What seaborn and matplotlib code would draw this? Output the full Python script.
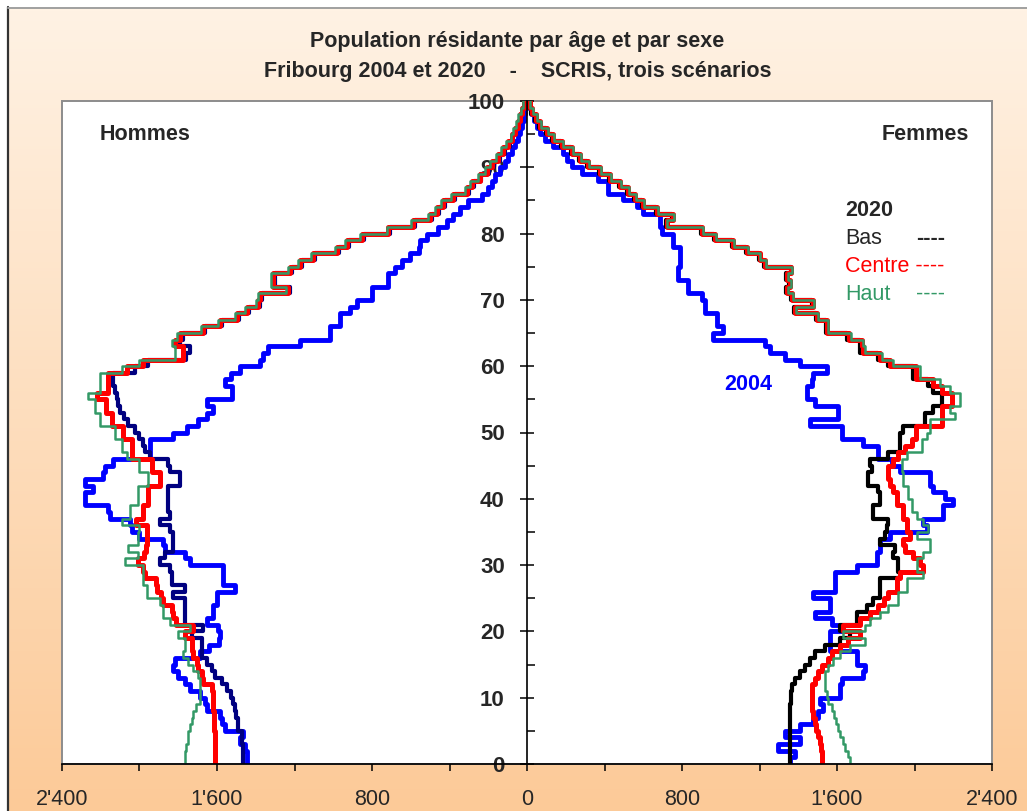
"""Pyramide des âges Fribourg 2004 / 2020 (SCRIS, trois scénarios)."""

import matplotlib
matplotlib.use("Agg")
import matplotlib.pyplot as plt
import numpy as np
import seaborn as sns
from matplotlib.patches import Rectangle
from matplotlib.ticker import FuncFormatter, MultipleLocator

# --- data: population per single year of age 0..99 -------------------------
men_2004 = [1445, 1445, 1455, 1480, 1465, 1560, 1575, 1585, 1650, 1660,
            1690, 1740, 1765, 1800, 1825, 1815, 1690, 1640, 1590, 1585,
            1595, 1650, 1620, 1620, 1600, 1600, 1505, 1570, 1570, 1570,
            1740, 1765, 1870, 1880, 2000, 2040, 2050, 2150, 2165, 2280,
            2280, 2240, 2280, 2190, 2180, 2135, 1945, 1945, 1945, 1825,
            1755, 1700, 1650, 1620, 1650, 1520, 1520, 1560, 1530, 1480,
            1380, 1360, 1335, 1170, 1015, 1015, 965, 965, 915, 875,
            800, 800, 715, 715, 680, 645, 605, 560, 550, 515,
            460, 415, 380, 345, 305, 230, 200, 180, 165, 140,
            115, 100, 75, 60, 45, 35, 25, 15, 10, 5]

men_bas = [1465, 1465, 1465, 1470, 1470, 1490, 1490, 1500, 1505, 1515,
           1530, 1550, 1575, 1610, 1625, 1650, 1675, 1675, 1675, 1730,
           1670, 1765, 1765, 1765, 1765, 1825, 1765, 1830, 1830, 1840,
           1895, 1870, 1825, 1825, 1825, 1840, 1895, 1840, 1855, 1855,
           1855, 1855, 1790, 1790, 1840, 1855, 1945, 1970, 1980, 2000,
           2025, 2060, 2080, 2100, 2110, 2115, 2125, 2135, 2135, 2025,
           1955, 1760, 1740, 1790, 1775, 1660, 1575, 1485, 1435, 1380,
           1370, 1225, 1300, 1300, 1215, 1160, 1095, 970, 920, 840,
           705, 580, 490, 455, 425, 370, 300, 275, 235, 195,
           170, 140, 115, 90, 70, 55, 40, 30, 20, 10]

men_centre = [1610, 1610, 1610, 1610, 1612, 1615, 1615, 1618, 1620, 1622,
              1620, 1625, 1670, 1675, 1700, 1705, 1725, 1730, 1730, 1765,
              1725, 1810, 1825, 1830, 1880, 1890, 1910, 1915, 1970, 1980,
              2010, 1975, 1965, 1960, 1960, 1960, 2020, 1980, 1980, 1955,
              1955, 1955, 1895, 1895, 1935, 1935, 2040, 2040, 2040, 2085,
              2085, 2140, 2140, 2175, 2175, 2220, 2165, 2165, 2165, 2065,
              1980, 1775, 1775, 1815, 1790, 1670, 1585, 1495, 1445, 1390,
              1380, 1235, 1310, 1310, 1225, 1170, 1105, 980, 930, 850,
              715, 590, 500, 465, 435, 380, 310, 285, 245, 205,
              180, 150, 125, 100, 75, 60, 45, 35, 25, 15]

men_haut = [1765, 1765, 1760, 1750, 1750, 1740, 1730, 1725, 1710, 1690,
            1690, 1690, 1690, 1700, 1725, 1750, 1775, 1765, 1765, 1800,
            1740, 1840, 1880, 1880, 1895, 1960, 1960, 1980, 1980, 1980,
            2075, 2010, 2060, 2010, 2010, 2000, 2090, 2050, 2050, 2010,
            2010, 2010, 1955, 1955, 2000, 2000, 2065, 2090, 2090, 2125,
            2125, 2205, 2205, 2230, 2230, 2265, 2205, 2205, 2205, 2090,
            2000, 1815, 1815, 1830, 1805, 1680, 1595, 1505, 1455, 1400,
            1390, 1245, 1320, 1320, 1235, 1180, 1115, 990, 940, 860,
            725, 600, 510, 475, 445, 390, 320, 295, 255, 215,
            190, 160, 135, 110, 85, 70, 55, 45, 30, 20]

women_2004 = [1357, 1383, 1295, 1410, 1330, 1410, 1475, 1500, 1527, 1510,
              1615, 1615, 1625, 1735, 1745, 1705, 1705, 1565, 1565, 1565,
              1630, 1575, 1485, 1565, 1565, 1475, 1590, 1590, 1590, 1705,
              1805, 1805, 1820, 1820, 1875, 2065, 2045, 2145, 2145, 2200,
              2155, 2095, 2080, 2080, 1925, 1885, 1810, 1810, 1735, 1625,
              1625, 1460, 1605, 1605, 1485, 1445, 1445, 1470, 1475, 1550,
              1410, 1330, 1255, 1230, 960, 1010, 980, 980, 920, 920,
              905, 830, 830, 780, 780, 790, 790, 790, 755, 755,
              695, 685, 685, 600, 570, 495, 420, 420, 365, 285,
              230, 205, 185, 135, 95, 65, 50, 35, 20, 10]

women_bas = [1357, 1357, 1357, 1357, 1357, 1357, 1357, 1357, 1357, 1360,
             1365, 1370, 1385, 1410, 1435, 1460, 1485, 1540, 1615, 1665,
             1615, 1705, 1705, 1755, 1785, 1820, 1820, 1820, 1925, 1915,
             1915, 1890, 1900, 1820, 1850, 1860, 1865, 1785, 1785, 1820,
             1820, 1810, 1760, 1760, 1780, 1770, 1865, 1925, 1925, 1925,
             1940, 2055, 2055, 2095, 2140, 2140, 2095, 2070, 1990, 1990,
             1865, 1810, 1720, 1720, 1650, 1545, 1545, 1490, 1380, 1470,
             1365, 1335, 1350, 1335, 1360, 1225, 1195, 1130, 1060, 965,
             900, 715, 750, 665, 595, 550, 515, 475, 425, 370,
             310, 270, 225, 175, 130, 100, 60, 40, 20, 10]

women_centre = [1520, 1520, 1515, 1510, 1500, 1490, 1485, 1475, 1470, 1470,
                1470, 1470, 1485, 1500, 1520, 1555, 1575, 1615, 1655, 1720,
                1630, 1720, 1770, 1810, 1845, 1865, 1910, 1910, 1925, 2045,
                2030, 1990, 1950, 1940, 1975, 1960, 1960, 1940, 1940, 1910,
                1910, 1890, 1875, 1865, 1865, 1890, 1915, 1950, 1985, 2010,
                2010, 2140, 2140, 2140, 2195, 2195, 2140, 2095, 2010, 2010,
                1875, 1820, 1735, 1730, 1660, 1550, 1550, 1495, 1385, 1475,
                1370, 1340, 1355, 1340, 1365, 1230, 1200, 1135, 1065, 970,
                905, 720, 755, 670, 600, 555, 520, 480, 430, 375,
                315, 275, 230, 180, 135, 105, 65, 45, 25, 15]

women_haut = [1665, 1655, 1640, 1630, 1615, 1605, 1595, 1585, 1575, 1555,
              1550, 1540, 1540, 1540, 1555, 1580, 1615, 1665, 1745, 1630,
              1745, 1770, 1820, 1865, 1915, 1915, 1960, 1960, 2045, 2015,
              2015, 2045, 2080, 2080, 2015, 2070, 2045, 2015, 1985, 1985,
              1965, 1965, 1940, 1940, 1935, 1935, 1960, 2040, 2040, 2065,
              2080, 2080, 2210, 2185, 2235, 2235, 2185, 2130, 2030, 2030,
              1890, 1830, 1745, 1735, 1670, 1555, 1555, 1500, 1390, 1480,
              1375, 1345, 1360, 1345, 1370, 1235, 1205, 1140, 1070, 975,
              910, 725, 760, 675, 605, 560, 525, 485, 435, 380,
              320, 280, 235, 185, 140, 110, 70, 50, 30, 15]

x_ticks = [-2400, -1600, -800, 0, 800, 1600, 2400]
y_ticks = list(range(0, 101, 10))

sns.set_style("white")
plt.rcParams["font.family"] = ["Liberation Sans", "DejaVu Sans"]

W, H = 1027, 811
fig = plt.figure(figsize=(W / 100, H / 100), dpi=100)
fig.patch.set_facecolor("white")

# peach gradient background with a thin frame
bg = fig.add_axes([0, 0, 1, 1], zorder=-5)
top_c = np.array([255, 242, 228]) / 255
bot_c = np.array([252, 202, 152]) / 255
t = np.linspace(0, 1, 256)[:, None, None]
grad = top_c * (1 - t) + bot_c * t
grad = np.repeat(grad, 2, axis=1)
bg.imshow(grad, aspect="auto", extent=[8 / W, 1, 0, 1 - 8 / H], origin="upper")
bg.set_xlim(0, 1)
bg.set_ylim(0, 1)
bg.axis("off")
bg.plot([7.5 / W, 7.5 / W], [0, 1 - 7 / H], color="#333333", lw=1.6)
bg.plot([7.5 / W, 1], [1 - 7.5 / H, 1 - 7.5 / H], color="#a0a0a0", lw=1.4)

ax = fig.add_axes([62 / W, 47 / H, 930 / W, 663 / H])
ax.set_facecolor("white")


def steps(values, sign):
    """Turn one value per age band into a vertical step outline."""
    v = np.asarray(values, dtype=float)
    assert len(v) == 100
    ys = np.repeat(np.arange(100), 2) + np.tile([0, 1], 100)
    xs = sign * np.repeat(v, 2)
    return xs, ys


series = [
    (men_2004, -1, "#0000ff", 3.5),
    (women_2004, 1, "#0000ff", 3.5),
    (men_bas, -1, "#000080", 3.0),
    (women_bas, 1, "#000000", 3.0),
    (men_centre, -1, "#ff0000", 3.6),
    (women_centre, 1, "#ff0000", 3.6),
    (men_haut, -1, "#339966", 1.8),
    (women_haut, 1, "#339966", 1.8),
]
for vals, sign, col, lw in series:
    xs, ys = steps(vals, sign)
    sns.lineplot(x=xs, y=ys, sort=False, estimator=None, color=col,
                 linewidth=lw, ax=ax, legend=False)

ax.set_xlim(-2400, 2400)
ax.set_ylim(0, 100)
ax.set_xlabel("")
ax.set_ylabel("")

# axes: vertical axis at x = 0, grey frame around plot area
for side in ("top", "right"):
    ax.spines[side].set_visible(False)
ax.spines["left"].set_position(("data", 0))
ax.spines["left"].set_color("black")
ax.spines["left"].set_linewidth(1.2)
ax.spines["bottom"].set_color("black")
ax.spines["bottom"].set_linewidth(1.2)
ax.add_patch(Rectangle((0, 0), 1, 1, transform=ax.transAxes, fill=False,
                       edgecolor="#8c8c8c", lw=1.4, clip_on=False, zorder=0.5))

ax.set_xticks(x_ticks)
ax.xaxis.set_minor_locator(MultipleLocator(400))
ax.xaxis.set_major_formatter(
    FuncFormatter(lambda v, p: f"{abs(int(round(v))):,}".replace(",", "'")))
ax.tick_params(axis="x", which="both", direction="out", length=5, width=1.1,
               color="black", bottom=True)
ax.tick_params(axis="x", which="major", labelsize=15.5, pad=13)

ax.set_yticks(y_ticks)
ax.yaxis.set_minor_locator(MultipleLocator(5))
ax.tick_params(axis="y", which="major", direction="inout", length=10,
               width=1.1, color="black", labelsize=16, pad=11, left=True)
ax.tick_params(axis="y", which="minor", direction="in", length=6,
               width=1.1, color="black", left=True)
for lab in ax.get_yticklabels():
    lab.set_fontweight("bold")

# texts
fig.text(0.504, 1 - 42 / H, "Population résidante par âge et par sexe",
         ha="center", va="center", fontsize=15.5, fontweight="bold")
fig.text(0.504, 1 - 72 / H,
         "Fribourg 2004 et 2020    -    SCRIS, trois scénarios",
         ha="center", va="center", fontsize=15.5, fontweight="bold")
fig.text(145 / W, 1 - 134 / H, "Hommes", ha="center", va="center",
         fontsize=15.5, fontweight="bold")
fig.text(925 / W, 1 - 134 / H, "Femmes", ha="center", va="center",
         fontsize=15.5, fontweight="bold")
fig.text(748 / W, 1 - 384 / H, "2004", ha="center", va="center",
         fontsize=15.5, fontweight="bold", color="#0000ff")

lx = 845 / W
fig.text(lx, 1 - 210 / H, "2020", ha="left", va="center", fontsize=15.5,
         fontweight="bold")
fig.text(lx, 1 - 238 / H, "Bas", ha="left", va="center", fontsize=15.5)
fig.text(916 / W, 1 - 238 / H, "----", ha="left", va="center",
         fontsize=15.5, fontweight="bold")
fig.text(lx, 1 - 267 / H, "Centre ----", ha="left", va="center",
         fontsize=15.5, color="#ff0000")
fig.text(lx, 1 - 294 / H, "Haut", ha="left", va="center", fontsize=15.5,
         color="#339966")
fig.text(916 / W, 1 - 294 / H, "----", ha="left", va="center",
         fontsize=15.5, color="#339966")

fig.savefig("out.png", dpi=100, facecolor=fig.get_facecolor())
